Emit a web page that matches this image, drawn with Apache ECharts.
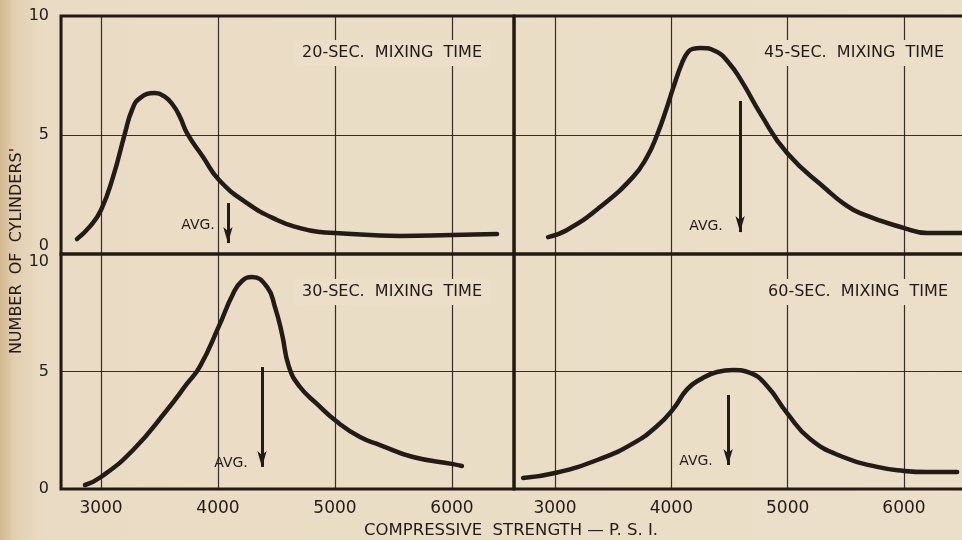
<!DOCTYPE html>
<html><head><meta charset="utf-8">
<script src="https://cdn.jsdelivr.net/npm/echarts@6/dist/echarts.min.js"></script>
<style>html,body{margin:0;padding:0;background:#ebdfc9}#c{width:962px;height:540px}</style>
</head><body><div id="c"></div><script>
// ---- data ----
const panelTitles = ['20-SEC.  MIXING  TIME', '45-SEC.  MIXING  TIME', '30-SEC.  MIXING  TIME', '60-SEC.  MIXING  TIME'];
const xTickValues = [3000, 4000, 5000, 6000];
const yTickValues = [0, 5, 10];

const strength20 = [2795, 2906, 3000, 3103, 3205, 3265, 3333, 3462, 3547, 3615, 3675, 3735, 3872, 4009, 4248, 4504, 4701, 4872, 5000, 5556, 6000, 6385];
const count20    = [0.63, 1.16, 1.85, 3.24, 5.08, 6.05, 6.55, 6.76, 6.60, 6.26, 5.76, 5.08, 4.08, 3.11, 2.14, 1.43, 1.09, 0.92, 0.88, 0.76, 0.80, 0.84];

const strength45 = [2940, 3103, 3387, 3671, 3791, 3877, 3963, 4015, 4092, 4144, 4187, 4247, 4376, 4488, 4608, 4763, 4995, 5339, 5476, 5623, 6001, 6199, 6500];
const count45    = [0.71, 1.01, 1.97, 3.24, 4.08, 5.00, 6.18, 6.97, 8.03, 8.49, 8.62, 8.66, 8.53, 8.07, 7.23, 5.92, 4.24, 2.69, 2.14, 1.72, 1.09, 0.88, 0.88];

const strength30 = [2863, 3000, 3274, 3564, 3735, 3846, 4009, 4128, 4205, 4291, 4419, 4487, 4547, 4607, 4701, 4846, 5009, 5214, 5385, 5667, 6009, 6085];
const count30    = [0.17, 0.51, 1.66, 3.36, 4.48, 5.22, 6.94, 8.30, 8.85, 9.02, 8.60, 7.74, 6.60, 5.19, 4.34, 3.62, 2.89, 2.21, 1.87, 1.36, 1.06, 0.98];

const strength60 = [2725, 3000, 3387, 3671, 3877, 4015, 4135, 4247, 4393, 4531, 4677, 4823, 4995, 5193, 5476, 5769, 6001, 6199, 6457];
const count60    = [0.47, 0.68, 1.28, 1.94, 2.68, 3.40, 4.24, 4.66, 4.98, 5.06, 4.94, 4.38, 3.23, 2.13, 1.36, 0.94, 0.77, 0.72, 0.72];

// average arrows (order: 20, 45, 30, 60 sec)
const avgStrength = [4085, 4591, 4376, 4488];
const avgArrowTop = [2.14, 6.43, 5.19, 4.00];
const avgArrowTip = [0.46, 0.92, 0.94, 1.02];
const avgLabelX   = [3829, 4298, 4111, 4212];
const avgLabelY   = [1.22, 1.18, 1.11, 1.19];
const avgText = 'AVG.';

const xMin = [2658, 2647, 2658, 2647];
const xMax = [6530, 6602, 6530, 6602];

// ---- chart ----
const FONT = 'DejaVu Sans';
const INK = '#231b17';
const BG = '#ebdfc9';
const chart = echarts.init(document.getElementById('c'));
const gridBoxes = [
  {left: 61, top: 16, width: 453, height: 238},
  {left: 514, top: 16, width: 460, height: 238},
  {left: 61, top: 254, width: 453, height: 235},
  {left: 514, top: 254, width: 460, height: 235}
];
const curves = [[strength20, count20], [strength45, count45], [strength30, count30], [strength60, count60]];
const titleRight = [472, 10, 472, 6];
const titleTop = [40, 40, 279, 279];

const option = {
  animation: false,
  backgroundColor: new echarts.graphic.LinearGradient(0, 0, 1, 0, [
    {offset: 0, color: '#d3b78f'}, {offset: 0.015, color: '#e2cfb0'},
    {offset: 0.045, color: '#eadcc4'}, {offset: 1, color: BG}
  ]),
  title: panelTitles.map((t, i) => ({
    text: t, right: titleRight[i], top: titleTop[i], padding: [5, 8],
    backgroundColor: BG,
    textStyle: {fontFamily: FONT, fontSize: 16, fontWeight: 'normal', color: INK}
  })),
  grid: gridBoxes.map(g => Object.assign({}, g, {
    show: true, borderWidth: 3, borderColor: INK, backgroundColor: 'transparent',
    containLabel: false, outerBoundsMode: 'none'
  })),
  xAxis: gridBoxes.map((g, i) => ({
    type: 'value', gridIndex: i, min: xMin[i], max: xMax[i],
    splitNumber: 4, minInterval: 1000, maxInterval: 1000,
    axisLine: {show: false}, axisTick: {show: false},
    splitLine: {show: true, lineStyle: {color: INK, width: 1.2, opacity: 0.9}},
    axisLabel: {
      show: i >= 2, showMinLabel: false, showMaxLabel: false, margin: 11,
      color: INK, fontFamily: FONT, fontSize: 17,
      formatter: v => xTickValues.includes(v) ? String(v) : ''
    }
  })),
  yAxis: gridBoxes.map((g, i) => {
    const lab = {
      show: i === 0 || i === 2, margin: 12, color: INK, fontFamily: FONT, fontSize: 16,
      formatter: v => yTickValues.includes(v) ? String(v) : ''
    };
    if (i === 0) lab.verticalAlignMinLabel = 'bottom';
    if (i === 2) lab.verticalAlignMaxLabel = 'top';
    return {
      type: 'value', gridIndex: i, min: 0, max: 10, interval: 5,
      axisLine: {show: false}, axisTick: {show: false},
      splitLine: {show: true, lineStyle: {color: INK, width: 1.2, opacity: 0.9}},
      axisLabel: lab
    };
  }),
  graphic: [
    {type: 'text', x: 17, y: 251, rotation: Math.PI / 2,
     style: {text: "NUMBER  OF  CYLINDERS'", font: '16px "DejaVu Sans"', fill: INK, align: 'center', verticalAlign: 'middle'}},
    {type: 'text', x: 511, y: 531,
     style: {text: 'COMPRESSIVE  STRENGTH — P. S. I.', font: '16.5px "DejaVu Sans"', fill: INK, align: 'center', verticalAlign: 'middle'}}
  ],
  series: curves.map((c, i) => ({
    type: 'line', xAxisIndex: i, yAxisIndex: i,
    data: c[0].map((v, k) => [v, c[1][k]]),
    smooth: 0.5, showSymbol: false, symbol: 'none',
    lineStyle: {color: INK, width: 4.5, cap: 'round', join: 'round'},
    markLine: {
      silent: true, animation: false, symbol: ['none', 'arrow'],
      lineStyle: {color: INK, width: 3, type: 'solid'},
      label: {show: false}, emphasis: {disabled: true},
      data: [[
        {coord: [avgStrength[i], avgArrowTop[i]], symbol: 'none'},
        {coord: [avgStrength[i], avgArrowTip[i]], symbol: 'arrow', symbolSize: [7, 16]}
      ]]
    },
    markPoint: {
      silent: true, animation: false, symbol: 'circle', symbolSize: 0,
      itemStyle: {color: 'rgba(0,0,0,0)'},
      label: {show: true, position: 'inside', formatter: avgText, color: INK, fontFamily: FONT, fontSize: 14},
      data: [{coord: [avgLabelX[i], avgLabelY[i]]}]
    }
  }))
};
chart.setOption(option);
</script></body></html>
